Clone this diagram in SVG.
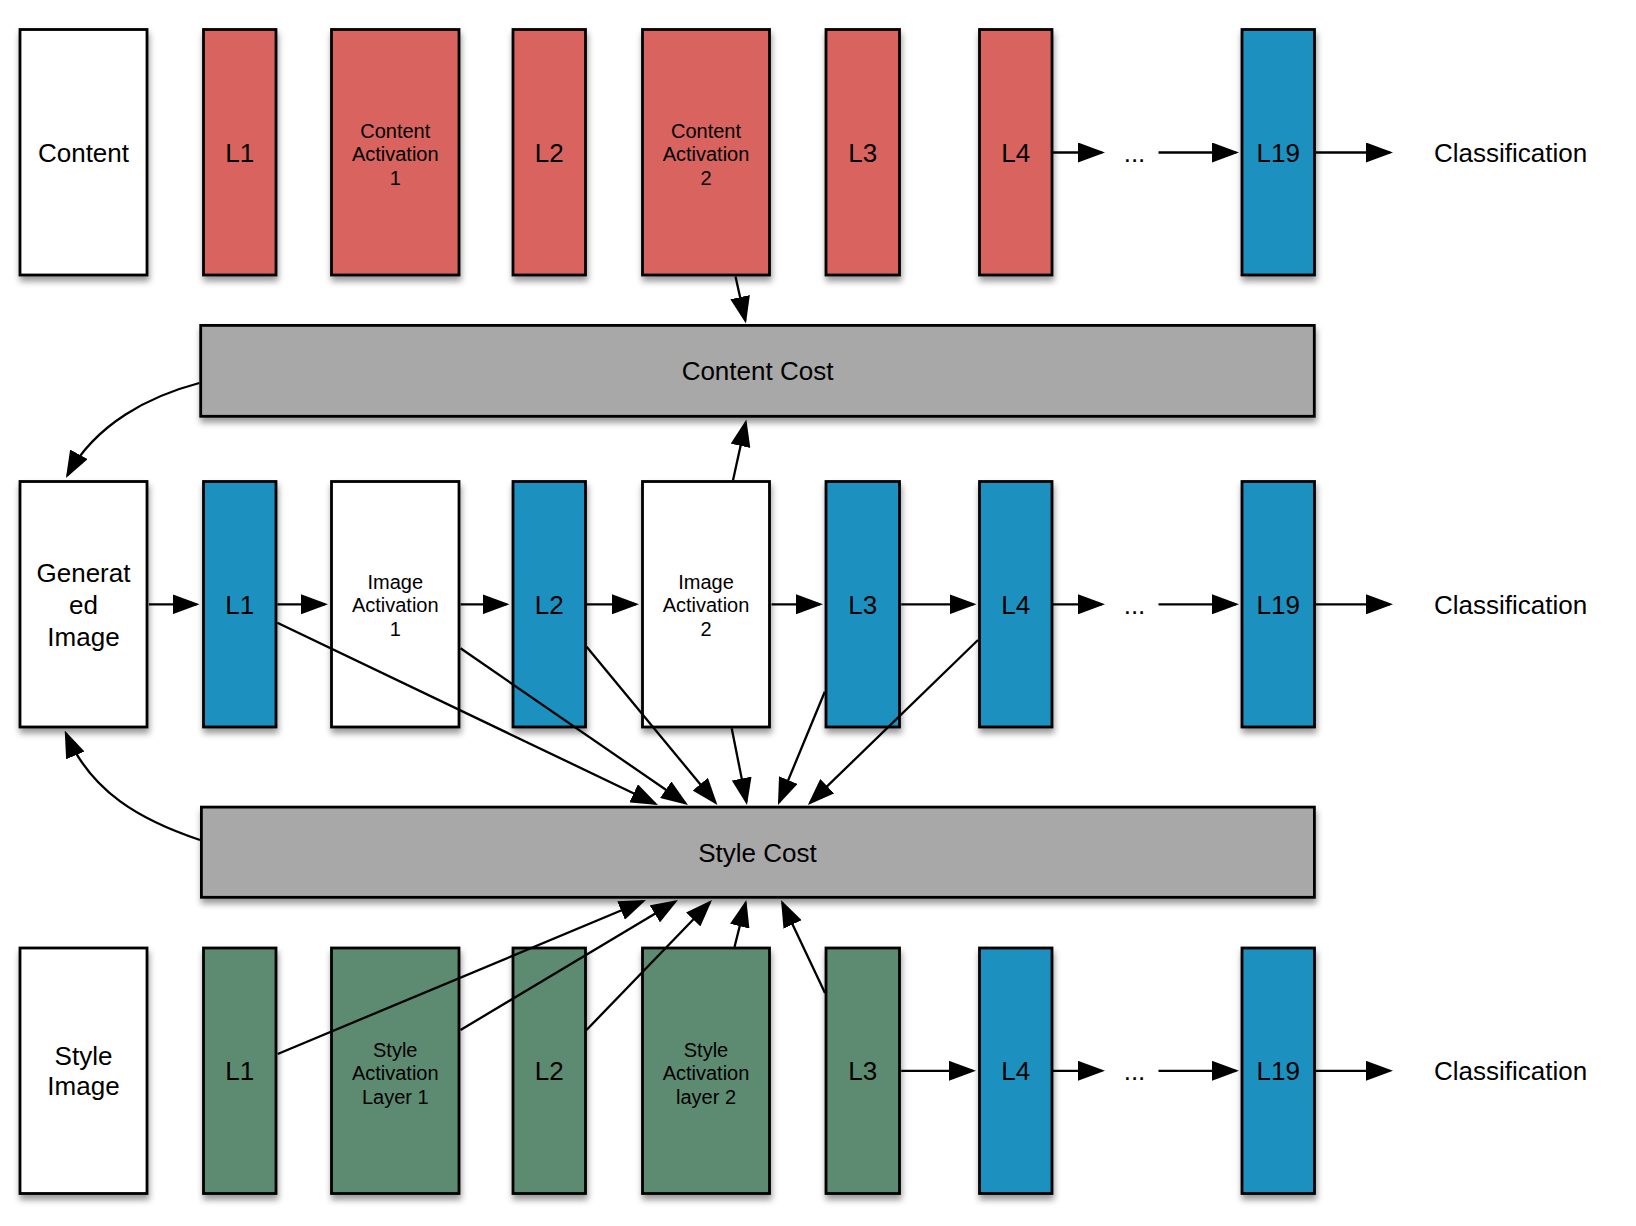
<svg xmlns="http://www.w3.org/2000/svg" width="1636" height="1226" viewBox="0 0 1636 1226">
  <defs>
    <filter id="shadow" x="-20%" y="-20%" width="140%" height="140%">
      <feDropShadow dx="1" dy="5" stdDeviation="3" flood-color="#000" flood-opacity="0.4"/>
    </filter>
    <marker id="arrow" viewBox="0 0 27 20" markerWidth="27" markerHeight="20" refX="24" refY="10" orient="auto" markerUnits="userSpaceOnUse">
      <path d="M0,0 L27,10 L0,20 Z" fill="#000"/>
    </marker>
    <style>
      .box { stroke: #000; stroke-width: 2.8; filter: url(#shadow); }
      .white { fill: #fff; }
      .red { fill: #d8635e; }
      .blue { fill: #1b91bf; }
      .green { fill: #5b8b72; }
      .grey { fill: #a8a8a8; }
      text { font-family: "Liberation Sans", Arial, Helvetica, sans-serif; fill: #000; text-anchor: middle; }
      .big { font-size: 26px; }
      .small { font-size: 20px; }
      .conn line, .conn path { stroke: #000; stroke-width: 2.3; fill: none; marker-end: url(#arrow); }
    </style>
  </defs>

  <rect width="1636" height="1226" fill="#fff"/>

  <!-- Content network (top row) -->
  <g id="content-image"><rect class="box white" x="20" y="29.5" width="127" height="245.5"/><text class="big" x="83.5" y="162">Content</text></g>
  <g id="content-l1"><rect class="box red" x="203.5" y="29.5" width="72.5" height="245.5"/><text class="big" x="239.75" y="162">L1</text></g>
  <g id="content-activation-1"><rect class="box red" x="331.5" y="29.5" width="127.5" height="245.5"/>
    <text class="small" x="395.25" y="137.5">Content</text><text class="small" x="395.25" y="161">Activation</text><text class="small" x="395.25" y="184.5">1</text></g>
  <g id="content-l2"><rect class="box red" x="513" y="29.5" width="72.5" height="245.5"/><text class="big" x="549.25" y="162">L2</text></g>
  <g id="content-activation-2"><rect class="box red" x="642.5" y="29.5" width="127" height="245.5"/>
    <text class="small" x="706" y="137.5">Content</text><text class="small" x="706" y="161">Activation</text><text class="small" x="706" y="184.5">2</text></g>
  <g id="content-l3"><rect class="box red" x="826" y="29.5" width="73.5" height="245.5"/><text class="big" x="862.75" y="162">L3</text></g>
  <g id="content-l4"><rect class="box red" x="979.5" y="29.5" width="72.5" height="245.5"/><text class="big" x="1015.75" y="162">L4</text></g>
  <g id="content-dots"><text class="big" x="1134.5" y="162">...</text></g>
  <g id="content-l19"><rect class="box blue" x="1242" y="29.5" width="72.5" height="245.5"/><text class="big" x="1278.25" y="162">L19</text></g>
  <g id="content-class"><text class="big" x="1434" y="162" style="text-anchor:start">Classification</text></g>

  <!-- Cost boxes -->
  <g id="content-cost"><rect class="box grey" x="200.7" y="325.4" width="1113.6" height="90.9"/><text class="big" x="757.5" y="380.3">Content Cost</text></g>
  <g id="style-cost"><rect class="box grey" x="201.4" y="807.1" width="1113" height="90.2"/><text class="big" x="757.5" y="861.5">Style Cost</text></g>

  <!-- Generated image network (middle row) -->
  <g id="generated-image"><rect class="box white" x="20" y="481.5" width="127" height="245.5"/>
    <text class="big" x="83.5" y="581.5">Generat</text><text class="big" x="83.5" y="613.5">ed</text><text class="big" x="83.5" y="645.5">Image</text></g>
  <g id="gen-l1"><rect class="box blue" x="203.5" y="481.5" width="72.5" height="245.5"/><text class="big" x="239.75" y="613.5">L1</text></g>
  <g id="image-activation-1"><rect class="box white" x="331.5" y="481.5" width="127.5" height="245.5"/>
    <text class="small" x="395.25" y="588.5">Image</text><text class="small" x="395.25" y="612">Activation</text><text class="small" x="395.25" y="635.5">1</text></g>
  <g id="gen-l2"><rect class="box blue" x="513" y="481.5" width="72.5" height="245.5"/><text class="big" x="549.25" y="613.5">L2</text></g>
  <g id="image-activation-2"><rect class="box white" x="642.5" y="481.5" width="127" height="245.5"/>
    <text class="small" x="706" y="588.5">Image</text><text class="small" x="706" y="612">Activation</text><text class="small" x="706" y="635.5">2</text></g>
  <g id="gen-l3"><rect class="box blue" x="826" y="481.5" width="73.5" height="245.5"/><text class="big" x="862.75" y="613.5">L3</text></g>
  <g id="gen-l4"><rect class="box blue" x="979.5" y="481.5" width="72.5" height="245.5"/><text class="big" x="1015.75" y="613.5">L4</text></g>
  <g id="gen-dots"><text class="big" x="1134.5" y="613.5">...</text></g>
  <g id="gen-l19"><rect class="box blue" x="1242" y="481.5" width="72.5" height="245.5"/><text class="big" x="1278.25" y="613.5">L19</text></g>
  <g id="gen-class"><text class="big" x="1434" y="613.5" style="text-anchor:start">Classification</text></g>

  <!-- Style network (bottom row) -->
  <g id="style-image"><rect class="box white" x="20" y="948" width="127" height="245.5"/>
    <text class="big" x="83.5" y="1064.5">Style</text><text class="big" x="83.5" y="1095">Image</text></g>
  <g id="style-l1"><rect class="box green" x="203.5" y="948" width="72.5" height="245.5"/><text class="big" x="239.75" y="1080">L1</text></g>
  <g id="style-activation-1"><rect class="box green" x="331.5" y="948" width="127.5" height="245.5"/>
    <text class="small" x="395.25" y="1056.5">Style</text><text class="small" x="395.25" y="1080">Activation</text><text class="small" x="395.25" y="1103.5">Layer 1</text></g>
  <g id="style-l2"><rect class="box green" x="513" y="948" width="72.5" height="245.5"/><text class="big" x="549.25" y="1080">L2</text></g>
  <g id="style-activation-2"><rect class="box green" x="642.5" y="948" width="127" height="245.5"/>
    <text class="small" x="706" y="1056.5">Style</text><text class="small" x="706" y="1080">Activation</text><text class="small" x="706" y="1103.5">layer 2</text></g>
  <g id="style-l3"><rect class="box green" x="826" y="948" width="73.5" height="245.5"/><text class="big" x="862.75" y="1080">L3</text></g>
  <g id="style-l4"><rect class="box blue" x="979.5" y="948" width="72.5" height="245.5"/><text class="big" x="1015.75" y="1080">L4</text></g>
  <g id="style-dots"><text class="big" x="1134.5" y="1080">...</text></g>
  <g id="style-l19"><rect class="box blue" x="1242" y="948" width="72.5" height="245.5"/><text class="big" x="1278.25" y="1080">L19</text></g>
  <g id="style-class"><text class="big" x="1434" y="1080" style="text-anchor:start">Classification</text></g>

  <!-- Connectors -->
  <g id="connectors" class="conn">
    <!-- top row -->
    <line x1="1053" y1="152.5" x2="1102" y2="152.5"/>
    <line x1="1158.5" y1="152.5" x2="1236" y2="152.5"/>
    <line x1="1315.7" y1="152.5" x2="1390" y2="152.5"/>
    <line x1="735.5" y1="276.6" x2="745.3" y2="320.6"/>

    <!-- middle row -->
    <line x1="149" y1="604.3" x2="196.5" y2="604.3"/>
    <line x1="277.3" y1="604.3" x2="325" y2="604.3"/>
    <line x1="460.5" y1="604.3" x2="506.5" y2="604.3"/>
    <line x1="586.5" y1="604.3" x2="636" y2="604.3"/>
    <line x1="771.5" y1="604.3" x2="820" y2="604.3"/>
    <line x1="901.2" y1="604.3" x2="973.5" y2="604.3"/>
    <line x1="1053" y1="604.3" x2="1102" y2="604.3"/>
    <line x1="1158.5" y1="604.3" x2="1236" y2="604.3"/>
    <line x1="1315.7" y1="604.3" x2="1390" y2="604.3"/>
    <line x1="733" y1="480.3" x2="745.7" y2="422.4"/>

    <!-- feedback into the generated image -->
    <path d="M199.3,383 C150,396 96,423 67.4,475.4"/>
    <path d="M200,840 C140,820 91,792 65.9,733.3"/>

    <!-- generated activations into style cost -->
    <line x1="277.3" y1="622.7" x2="655.3" y2="803.7"/>
    <line x1="460.5" y1="648.3" x2="685.5" y2="803.3"/>
    <line x1="586.6" y1="646.7" x2="715.5" y2="802.7"/>
    <line x1="731.7" y1="728.3" x2="746.4" y2="802.1"/>
    <line x1="824.8" y1="691.7" x2="779.1" y2="802.2"/>
    <line x1="978" y1="640" x2="810" y2="802.9"/>

    <!-- style activations into style cost -->
    <line x1="277.7" y1="1054" x2="643.2" y2="901.2"/>
    <line x1="460.5" y1="1030" x2="675.4" y2="901.5"/>
    <line x1="586.5" y1="1030" x2="709.9" y2="902.2"/>
    <line x1="734.5" y1="947" x2="745.6" y2="902.9"/>
    <line x1="825" y1="993" x2="782.3" y2="902.7"/>

    <!-- bottom row -->
    <line x1="901.2" y1="1070.8" x2="973" y2="1070.8"/>
    <line x1="1053" y1="1070.8" x2="1102" y2="1070.8"/>
    <line x1="1158.5" y1="1070.8" x2="1236" y2="1070.8"/>
    <line x1="1315.7" y1="1070.8" x2="1390" y2="1070.8"/>
  </g>
</svg>
